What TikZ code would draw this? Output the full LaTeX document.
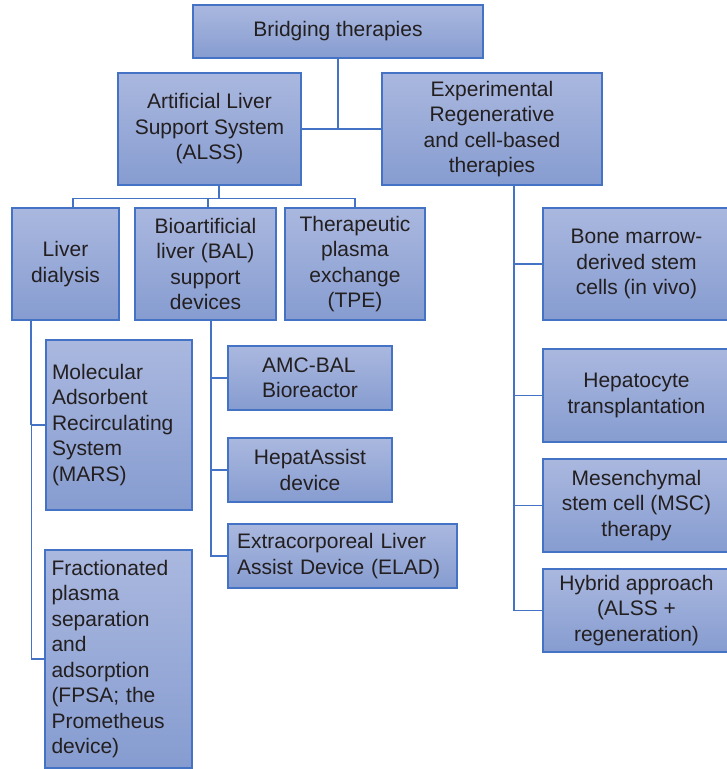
\documentclass[tikz,border=0pt]{standalone}
\usepackage{fontspec}
\setmainfont{Liberation Sans}
\usetikzlibrary{positioning, calc}
\definecolor{boxline}{RGB}{68,114,196}
\definecolor{boxtop}{RGB}{170,184,223}
\definecolor{boxbot}{RGB}{134,156,208}
\definecolor{ink}{RGB}{35,31,32}

\begin{document}
\begin{tikzpicture}[
  x = 1pt, y = -1pt,
  box/.style    = {draw=boxline, line width=1.4pt, top color=boxtop,
                   bottom color=boxbot, text=ink, align=center,
                   font=\fontsize{21}{25.5}\selectfont, inner sep=2pt},
  lbox/.style   = {box, align=left},
  spine/.style  = {draw=boxline, line width=1.8pt},
  branch/.style = {draw=boxline, line width=1.1pt}
]
\useasboundingbox (0,0) rectangle (727,769);

\node[box, minimum width=290pt, minimum height=53pt] (bridge) at (338,31.5) {Bridging therapies};
\node[box, minimum width=183pt, minimum height=112pt] (alss) at (209.5,129) {Artificial Liver\\Support System\\(ALSS)};
\node[box, minimum width=220pt, minimum height=112pt] (exper) at (492,129) {Experimental\\Regenerative\\and cell-based\\therapies};

\node[box, minimum width=107pt, minimum height=112pt] (dial) at (65.5,264) {Liver\\dialysis};
\node[box, minimum width=141pt, minimum height=112pt] (bal) at (205.5,264) {Bioartificial\\liver (BAL)\\support\\devices};
\node[box, minimum width=140pt, minimum height=112pt] (tpe) at (355,264) {Therapeutic\\plasma\\exchange\\(TPE)};

\node[lbox, text width=134pt, minimum width=146pt, minimum height=170pt] (mars) at (119,425) {Molecular\\Adsorbent\\Recirculating\\System\\(MARS)};
\node[lbox, text width=134pt, minimum width=147pt, minimum height=218pt] (fpsa) at (118.5,659) {Fractionated\\plasma\\separation\\and\\adsorption\\(FPSA; the\\Prometheus\\device)};

\node[lbox, minimum width=164pt, minimum height=64pt] (amc) at (310,378) {AMC-BAL\\Bioreactor};
\node[box, minimum width=164pt, minimum height=64pt] (hepat) at (310,470) {HepatAssist\\device};
\node[lbox, text width=211pt, minimum width=229pt, minimum height=64pt] (elad) at (342.5,556) {Extracorporeal Liver\\Assist Device (ELAD)};

\node[box, minimum width=187pt, minimum height=112pt] (bone) at (636.5,264) {Bone marrow-\\derived stem\\cells (in vivo)};
\node[box, minimum width=187pt, minimum height=93pt] (hepato) at (636.5,395.5) {Hepatocyte\\transplantation};
\node[box, minimum width=187pt, minimum height=93pt] (msc) at (636.5,505.5) {Mesenchymal\\stem cell (MSC)\\therapy};
\node[box, minimum width=187pt, minimum height=83pt] (hybrid) at (636.5,610.5) {Hybrid approach\\(ALSS +\\regeneration)};

\draw[spine] (bridge.south) -- (bridge.south |- alss.east);
\draw[branch] (alss.east) -- (exper.west);

\draw[spine] ([xshift=9.5pt]alss.south) -- ++(0,13) coordinate (abus);
\draw[branch] ([xshift=7.5pt]dial.north) |- (abus) -| (tpe.north);
\draw[branch] ([xshift=2.5pt]bal.north) -- ([xshift=2.5pt]bal.north |- abus);

\coordinate (dtop) at ([xshift=20pt]dial.south west);
\draw[spine] (dtop) -- (dtop |- mars.west);
\draw[branch] (dtop |- mars.west) -- (mars.west);
\draw[branch] (dtop |- mars.west) |- (fpsa.west);

\coordinate (btop) at ([xshift=5.5pt]bal.south);
\draw[spine] (btop) -- (btop |- hepat.west);
\draw[branch] (btop |- hepat.west) |- (elad.west);
\foreach \n in {amc, hepat} \draw[branch] (btop |- \n.west) -- (\n.west);

\coordinate (etop) at ([xshift=22pt]exper.south);
\draw[spine] (etop) -- (etop |- msc.west);
\draw[branch] (etop |- msc.west) |- (hybrid.west);
\foreach \n in {bone, hepato, msc} \draw[branch] (etop |- \n.west) -- (\n.west);
\end{tikzpicture}
\end{document}
